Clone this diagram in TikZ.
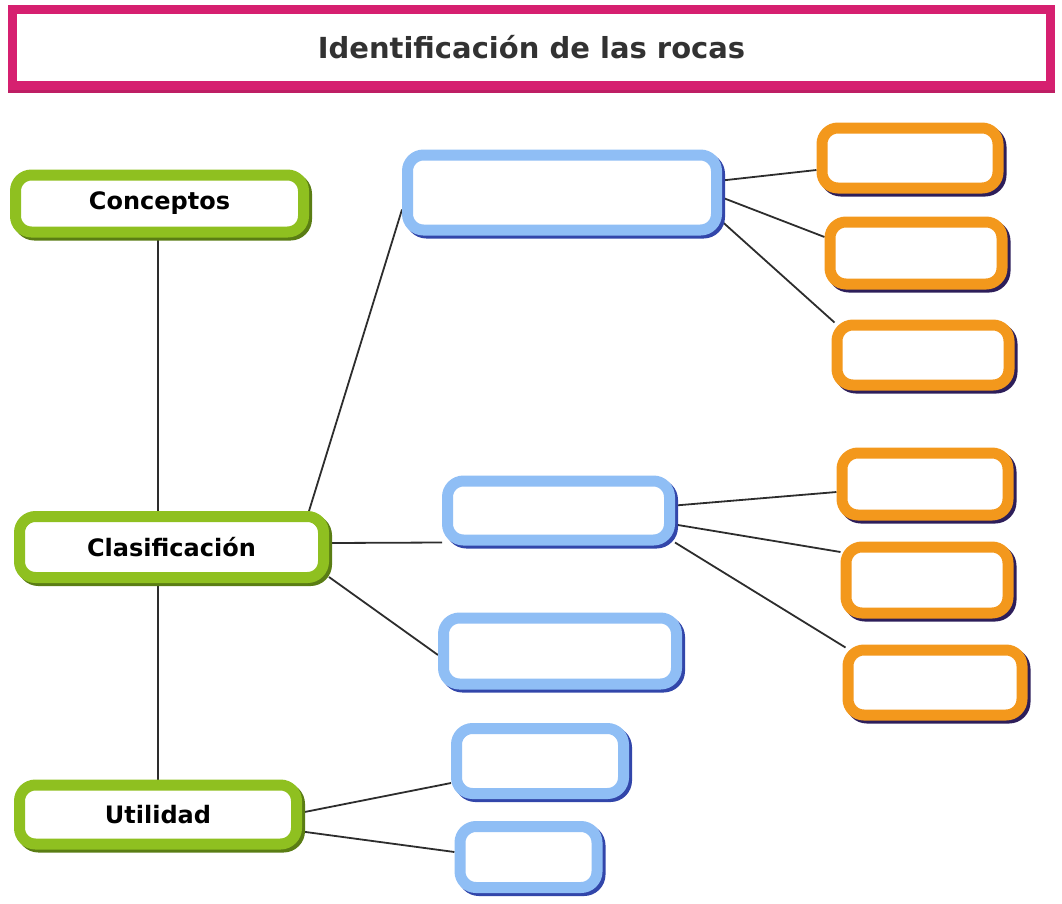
\documentclass[tikz,border=0pt]{standalone}
\usepackage{fontspec}
\setmainfont{DejaVu Sans}
\usetikzlibrary{backgrounds}
\definecolor{pinkc}{RGB}{214,32,112}
\definecolor{pinkdark}{RGB}{190,30,100}
\definecolor{greenc}{RGB}{143,192,32}
\definecolor{greendark}{RGB}{90,125,20}
\definecolor{bluec}{RGB}{143,190,245}
\definecolor{bluedark}{RGB}{50,70,170}
\definecolor{orangec}{RGB}{243,152,28}
\definecolor{orangedark}{RGB}{45,30,90}
\definecolor{linec}{RGB}{45,45,45}
\definecolor{titletext}{RGB}{50,50,50}
\tikzset{
  mapbox/.style={rectangle, rounded corners=16pt, line width=11pt, fill=white,
    inner sep=0pt, font=\bfseries\fontsize{24}{28}\selectfont,
    preaction={draw=#1, line width=11pt, transform canvas={shift={(3pt,-3pt)}}}},
  greenbox/.style={mapbox=greendark, draw=greenc},
  bluebox/.style={mapbox=bluedark, draw=bluec},
  orangebox/.style={mapbox=orangedark, draw=orangec},
  titlebox/.style={rectangle, line width=9pt, draw=pinkc, fill=white, inner sep=0pt,
    font=\bfseries\fontsize{29}{34}\selectfont, text=titletext,
    preaction={draw=pinkdark, line width=9pt, transform canvas={shift={(0pt,-3pt)}}}},
  conn/.style={draw=linec, line width=1.8pt}
}
\begin{document}
\begin{tikzpicture}[x=1pt,y=-1pt]
\useasboundingbox (0,0) rectangle (1062,903);
% title
\node[titlebox, minimum width=1038pt, minimum height=76pt] (title) at (531.5,47) {Identificación de las rocas};
% green concept boxes
\node[greenbox, minimum width=288pt, minimum height=57pt] (conc) at (159.5,203.5) {Conceptos};
\node[greenbox, minimum width=304pt, minimum height=61pt] (clas) at (171.5,547) {Clasificación};
\node[greenbox, minimum width=277pt, minimum height=59pt] (util) at (158,814.5) {Utilidad};
% blue boxes
\node[bluebox, minimum width=309pt, minimum height=75pt] (b1) at (562,192.5) {};
\node[bluebox, minimum width=222pt, minimum height=59pt] (b2) at (558.5,510.5) {};
\node[bluebox, minimum width=233pt, minimum height=66pt] (b3) at (560,651) {};
\node[bluebox, minimum width=167pt, minimum height=65pt] (b4) at (540,761) {};
\node[bluebox, minimum width=137pt, minimum height=61pt] (b5) at (528.5,857) {};
% orange boxes
\node[orangebox, minimum width=176pt, minimum height=60pt] (o1) at (910,158) {};
\node[orangebox, minimum width=172pt, minimum height=62pt] (o2) at (916,253) {};
\node[orangebox, minimum width=172pt, minimum height=60pt] (o3) at (923,355) {};
\node[orangebox, minimum width=166pt, minimum height=62pt] (o4) at (925,484) {};
\node[orangebox, minimum width=162pt, minimum height=66pt] (o5) at (927,580) {};
\node[orangebox, minimum width=174pt, minimum height=65pt] (o6) at (935,682.5) {};
% connectors
\begin{scope}[on background layer]
\draw[conn] (conc.south -| util.north) -- (clas.north -| util.north);
\draw[conn] (clas.south -| util.north) -- (util.north);
\draw[conn] ([xshift=-20pt]clas.north east) -- ([yshift=-17pt]b1.west);
\draw[conn] ([yshift=4pt]clas.east) -- ([yshift=3pt]b2.south west);
\draw[conn] ([yshift=6pt]clas.south east) -- ([yshift=-4pt]b3.west);
\draw[conn] ([yshift=2pt]util.east) -- ([yshift=-22pt]b4.west);
\draw[conn] ([yshift=-17pt]util.east) -- ([yshift=5pt]b5.west);
\draw[conn] ([yshift=12pt]b1.east) -- ([yshift=-12pt]o1.west);
\draw[conn] ([yshift=-5pt]b1.east) -- ([yshift=16pt]o2.west);
\draw[conn] ([yshift=-29pt]b1.east) -- ([xshift=3pt,yshift=-3pt]o3.north west);
\draw[conn] ([yshift=5pt]b2.east) -- ([yshift=-8pt]o4.west);
\draw[conn] ([yshift=-14pt]b2.east) -- ([yshift=28pt]o5.west);
\draw[conn] ([yshift=3pt]b2.south east) -- ([xshift=3pt,yshift=-3pt]o6.north west);
\end{scope}
\end{tikzpicture}
\end{document}
